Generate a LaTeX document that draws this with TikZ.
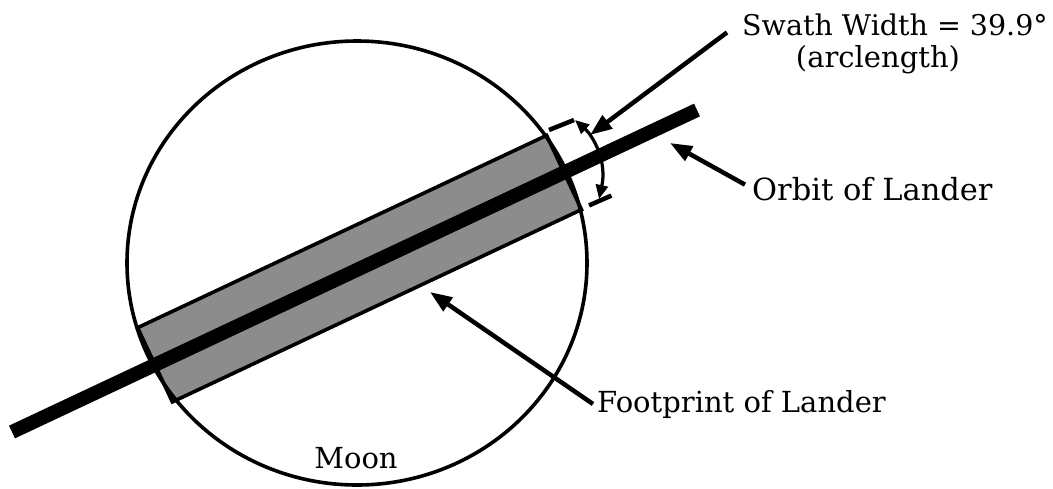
\documentclass[tikz,border=0pt]{standalone}
\usepackage{fontspec}
\setmainfont{DejaVu Serif}
\usetikzlibrary{arrows.meta,calc,shapes.geometric}
\begin{document}
\begin{tikzpicture}[x=1pt,y=-1pt,
  lbl/.style={font=\fontsize{29}{33}\selectfont, inner sep=0pt},
  leader/.style={line width=4.5pt,-{Triangle[length=22pt,width=16pt]}},
  dimarrow/.style={line width=3.2pt,{Triangle[length=14pt,width=12pt]}-{Triangle[length=14pt,width=12pt]}},
  outline/.style={line width=3.6pt},
  tick/.style={line width=4.5pt},
]
\useasboundingbox (0,0) rectangle (1053,488);
% swath footprint
\coordinate (tl) at (137.6,327.7);
\coordinate (bl) at (172.4,401.9);
\coordinate (br) at (581.5,209.6);
\coordinate (tr) at (546.6,135.4);
\filldraw[outline, fill=black!45] (tl) -- (bl) -- (br) -- (tr) -- cycle;
% moon
\node[draw, outline, ellipse, minimum width=460pt, minimum height=444pt, inner sep=0pt] (moon) at (357,263) {};
% orbit
\coordinate (orbA) at (12,432);
\coordinate (orbB) at (697,110);
\draw[line width=14pt] (orbA) -- (orbB);
% swath width ticks
\coordinate (t1a) at (549,130);
\coordinate (t1b) at (574,120);
\coordinate (t2a) at (589,205.4);
\coordinate (t2b) at (611.4,195.6);
\draw[tick] (t1a) -- (t1b);
\draw[tick] (t2a) -- (t2b);
\coordinate (arcA) at (575,120);
\coordinate (arcB) at (599,199);
\draw[dimarrow] (arcA) .. controls (594,137) and (607,162) .. (arcB);
% labels
\node[lbl, font=\fontsize{28.5}{33}\selectfont, anchor=base west] (swath) at (742,35) {Swath Width = 39.9°};
\node[lbl, anchor=base] (arcl) at (878,67) {(arclength)};
\node[lbl, font=\fontsize{30.5}{34}\selectfont, anchor=base west] (orbit) at (752,200) {Orbit of Lander};
\node[lbl, anchor=base west] (foot) at (597,412) {Footprint of Lander};
\node[lbl, anchor=base] (moonlbl) at (356,468) {Moon};
% leaders
\coordinate (swtip) at (590,135);
\coordinate (orbtip) at (670,143);
\coordinate (foottip) at (430,292);
\draw[leader] ([xshift=-15pt,yshift=-8pt]swath.west) -- (swtip);
\draw[leader] ([xshift=-7pt,yshift=4pt]orbit.west) -- (orbtip);
\draw[leader] ([xshift=-4pt]foot.west) -- (foottip);
\end{tikzpicture}
\end{document}
